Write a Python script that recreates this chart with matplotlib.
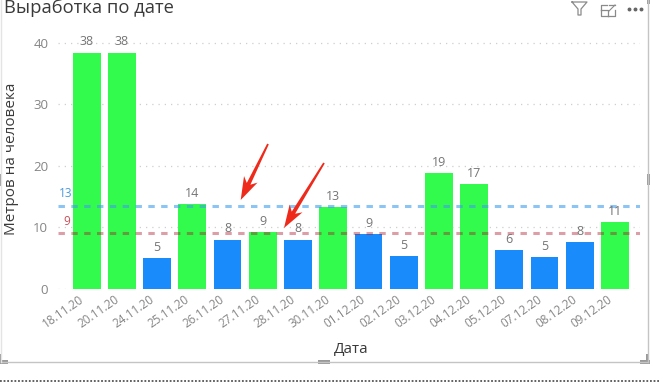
import matplotlib
matplotlib.use('Agg')
import matplotlib.pyplot as plt
from matplotlib.lines import Line2D
from matplotlib.patches import Rectangle, Polygon
from matplotlib.transforms import ScaledTranslation

plt.rcParams['font.family'] = ['Open Sans', 'DejaVu Sans']

dates = ['18.11.20', '20.11.20', '24.11.20', '25.11.20', '26.11.20', '27.11.20',
         '28.11.20', '30.11.20', '01.12.20', '02.12.20', '03.12.20', '04.12.20',
         '05.12.20', '07.12.20', '08.12.20', '09.12.20']
values = [38.4, 38.4, 5.0, 13.8, 8.0, 9.2, 8.0, 13.3, 8.9, 5.3, 18.8, 17.0, 6.3, 5.2, 7.6, 10.8]
is_green = [1, 1, 0, 1, 0, 1, 0, 1, 0, 0, 1, 1, 0, 0, 0, 1]
avg_blue = 13.4
avg_red = 9.0

W, H = 659, 382
fig = plt.figure(figsize=(W/100, H/100), dpi=100, facecolor='white')

# pixel helpers, y measured from the top of the picture
def fx(x): return x/W
def fy(y): return 1 - y/H

ax = fig.add_axes([fx(58), fy(288.7), fx(640-58), (288.7-20)/H])
x = list(range(len(dates)))
colors = ['#33FB4E' if g else '#1A8BFB' for g in is_green]
ax.bar(x, values, width=0.79, color=colors, zorder=2)
ax.set_xlim(-0.815, 15.71)
ax.set_ylim(0, (288.7-20)/6.15)

ax.axhline(avg_blue, color='#3F9DEE', alpha=0.6, lw=2.2, dashes=(2.1, 2.1), zorder=3)
ax.axhline(avg_red, color='#AA1125', alpha=0.4, lw=2.2, dashes=(2.1, 2.1), zorder=3)
ax.text(-0.8, avg_blue+1.0, '13', color='#4A9BE0', fontsize=8.5, va='bottom', ha='left')
ax.text(-0.65, avg_red+0.9, '9', color='#C9505A', fontsize=8.5, va='bottom', ha='left')

for i, v in zip(x, values):
    ax.annotate(f'{v:.0f}', (i, v), xytext=(0, 3), textcoords='offset points',
                ha='center', va='bottom', fontsize=9, color='#757575', zorder=4)

for s in ax.spines.values():
    s.set_visible(False)
ax.set_yticks([0, 10, 20, 30, 40])
ax.yaxis.grid(True, color='#CFCFCF', lw=0.9, linestyle=(0, (1, 4)), zorder=0)
ax.set_axisbelow(True)
ax.tick_params(axis='both', length=0, colors='#858585')
ax.tick_params(axis='y', pad=7, labelsize=9.5)
ax.set_xticks(x)
ax.set_xticklabels(dates, rotation=35, ha='right', rotation_mode='anchor', fontsize=8.5)
ax.tick_params(axis='x', pad=3)
shift = ScaledTranslation(-8/100, 0, fig.dpi_scale_trans)
for lab in ax.get_xticklabels():
    lab.set_transform(lab.get_transform() + shift)

fig.text(fx(4), fy(13), 'Выработка по дате', fontsize=13.2, color='#3A3A3A', ha='left', va='baseline')
fig.text(fx(12), fy(159), 'Метров на человека', fontsize=11, color='#3A3A3A',
         rotation=90, ha='center', va='center')
fig.text(fx(351), fy(349), 'Дата', fontsize=11, color='#3A3A3A', ha='center', va='center')

def fline(xs, ys, **kw):
    fig.add_artist(Line2D([fx(a) for a in xs], [fy(b) for b in ys], **kw))

# visual frame and resize handles
fline([648, 648], [0, 362], color='#C4C4C4', lw=1)
fline([1, 648], [362, 362], color='#C4C4C4', lw=1)
fline([1, 1], [0, 362], color='#E4E4E4', lw=1)
fline([0, 659], [380.7, 380.7], color='#555555', lw=1.3, linestyle=(0, (1, 1)))
for r in [(0, 360, 8, 4), (0, 354, 2, 8), (318, 360, 12, 4), (640, 360, 10, 4),
          (646, 354, 3, 9), (647, 0, 3, 4), (647, 174, 3, 11), (0, 174, 2, 12)]:
    fig.add_artist(Rectangle((fx(r[0]), fy(r[1]+r[3])), r[2]/W, r[3]/H, color='#9A9A9A', lw=0))

# header icons
fline([572, 587, 581, 581, 578, 578, 572], [2, 2, 9, 15, 15, 9, 2], color='#8A8A8A', lw=0.9)
fline([601, 601, 608], [10, 16, 16], color='#8A8A8A', lw=0.9)
fline([601, 608, 608], [10, 10, 16], color='#8A8A8A', lw=0.9)
fline([608, 615, 615], [16, 16, 10], color='#8A8A8A', lw=0.9)
fline([601, 601, 607], [10, 5, 5], color='#8A8A8A', lw=0.9)
fline([609, 615, 615], [5, 5, 5], color='#8A8A8A', lw=0.9)
fline([609, 615], [11, 5], color='#8A8A8A', lw=0.8)
fline([629, 635, 641], [9, 9, 9], color='#666666', lw=0, marker='o', ms=1.8)

# red hand drawn arrows
def arrow(x0, y0, x1, y1, head, half):
    dx, dy = x1-x0, y1-y0
    n = (dx*dx+dy*dy)**0.5
    ux, uy = dx/n, dy/n
    bx, by = x1-ux*head, y1-uy*head
    nx, ny = bx+ux*5, by+uy*5
    pts = [(x0-uy*0.9, y0+ux*0.9), (nx-uy*2, ny+ux*2), (bx-uy*half, by+ux*half), (x1, y1),
           (bx+uy*half, by-ux*half), (nx+uy*2, ny-ux*2), (x0+uy*0.9, y0-ux*0.9)]
    fig.add_artist(Polygon([(fx(a), fy(b)) for a, b in pts], closed=True, color='#EE2A1B', lw=0))

arrow(268, 144, 240.7, 200, 23, 7.5)
arrow(324, 163, 284, 228, 23, 7.5)

fig.savefig('out.png', dpi=100)
